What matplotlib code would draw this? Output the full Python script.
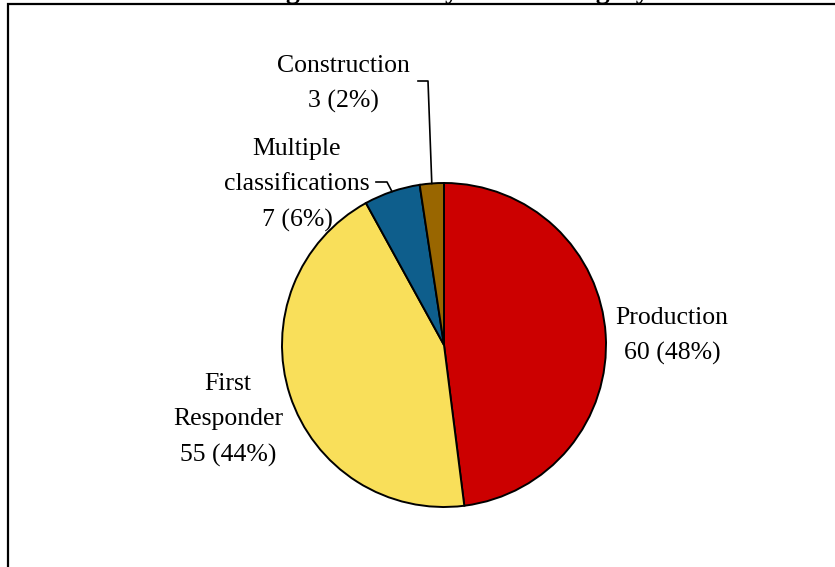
import matplotlib
matplotlib.use("Agg")
import matplotlib.pyplot as plt
from matplotlib.patches import Rectangle
import numpy as np

categories = ["Production", "First\nResponder", "Multiple\nclassifications", "Construction"]
values = [60, 55, 7, 3]
colors = ["#CC0000", "#F9DF5A", "#0E5E8C", "#996600"]
# NOTE: the reference's title is cropped off at the top edge; only the bottoms of a few
# letters are visible, so this wording is a GUESS (placeholder), not read from the image.
title = "Training Attendees by Work Category"

plt.rcParams["font.family"] = ["Liberation Serif", "DejaVu Serif"]

W, H = 835, 567
fig = plt.figure(figsize=(W / 100, H / 100), dpi=100)
cx, cy, R = 444, 345, 162
ax = fig.add_axes([0, 0, 1, 1])

wedges, _ = ax.pie(values, colors=colors, startangle=90, counterclock=False,
                   radius=1.0, center=(0, 0),
                   wedgeprops=dict(edgecolor="black", linewidth=1.4),
                   frame=True)
ax.set_xlim(-cx / R, (W - cx) / R)
ax.set_ylim(-(H - cy) / R, cy / R)
ax.set_aspect("equal")
ax.axis("off")

total = sum(values)
labels = [f"{c}\n{v} ({round(100 * v / total):.0f}%)" for c, v in zip(categories, values)]

def px(x, y):
    return ((x - cx) / R, (cy - y) / R)

fs = 18.5
label_pos = [px(672, 336), px(228, 420), px(297, 185), px(343, 84)]
for lab, pos in zip(labels, label_pos):
    ax.text(pos[0], pos[1], lab, ha="center", va="center", fontsize=fs,
            linespacing=1.75)

# leader lines
cum = np.cumsum([0] + values)
def edge_point(i):
    ang = np.deg2rad(90 - 360 * (cum[i] + values[i] / 2) / total)
    return np.cos(ang), np.sin(ang)

# Multiple classifications
ex, ey = edge_point(2)
a = px(376, 182); b = px(387, 182)
ax.plot([a[0], b[0], ex], [a[1], b[1], ey], color="black", lw=1.2)
# Construction
ex, ey = edge_point(3)
a = px(418, 81); b = px(428, 81)
ax.plot([a[0], b[0], ex], [a[1], b[1], ey], color="black", lw=1.2)

# outer frame (cropped, as in the reference)
fig.add_artist(Rectangle((7.5 / W, -0.2), 2, 1.2 - 3.5 / H, transform=fig.transFigure,
                         fill=False, edgecolor="black", lw=1.6))

# title placed mostly above the canvas so only descenders show, matching the cropped reference
fig.text(650 / W, 1 + 1.5 / H, title, ha="right", va="baseline",
         fontsize=20, fontweight="bold")

fig.savefig("out.png", dpi=100)
